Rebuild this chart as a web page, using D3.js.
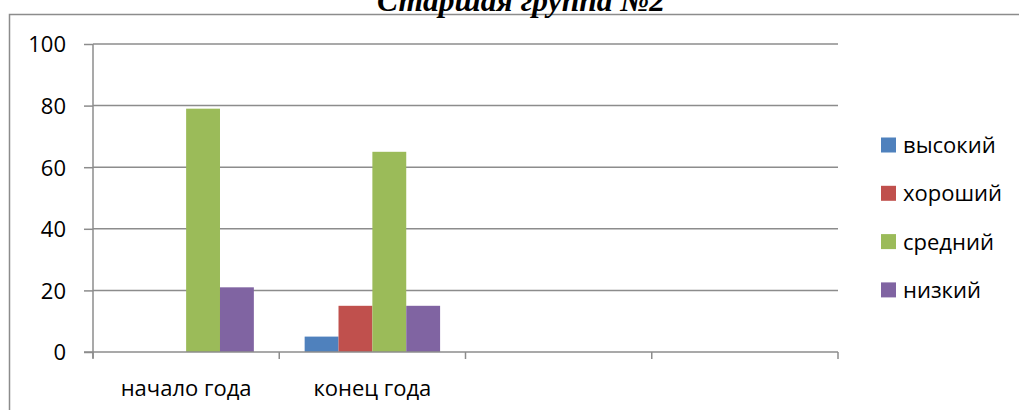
<!DOCTYPE html>
<html>
<head>
<meta charset="utf-8">
<script src="https://cdn.jsdelivr.net/npm/d3@7"></script>
<style>
  html, body { margin: 0; padding: 0; background: #fff; }
  svg { display: block; }
</style>
</head>
<body>
<svg id="chart" width="1019" height="410"></svg>
<script>
// Chart data
const title = "Старшая группа №2";
const categories = ["начало года", "конец года", "", ""];
const seriesNames = ["высокий", "хороший", "средний", "низкий"];
const seriesColors = ["#4F81BD", "#C0504D", "#9BBB59", "#8064A2"];
// values per series, one entry per category (null = no bar)
const vysokiy = [0, 5, null, null];
const khoroshiy = [0, 15, null, null];
const sredniy = [79, 65, null, null];
const nizkiy = [21, 15, null, null];
const seriesValues = [vysokiy, khoroshiy, sredniy, nizkiy];
const yTicks = [0, 20, 40, 60, 80, 100];

const svg = d3.select("#chart");
const W = 1019, H = 410;
const plot = { left: 93, right: 838, top: 44, bottom: 352 };
const gridColor = "#8c8c8c";
const labelFont = "'Open Sans', sans-serif";

// outer chart frame (continues past the right and bottom edges)
svg.append("rect")
  .attr("x", 9.5).attr("y", 14.5)
  .attr("width", W + 20).attr("height", H + 20)
  .attr("fill", "none").attr("stroke", gridColor).attr("stroke-width", 1.5);

// title, sitting above the frame's top edge
const t = svg.append("text")
  .attr("x", 521).attr("y", 11)
  .attr("text-anchor", "middle")
  .style("font-family", "'Liberation Serif', 'Times New Roman', serif")
  .style("font-weight", "bold").style("font-style", "italic")
  .style("font-size", "24px")
  .attr("fill", "#000")
  .text(title);
const tw = t.node().getComputedTextLength();
t.style("font-size", (24 * 288 / tw).toFixed(2) + "px");

// scales
const x0 = d3.scaleBand().domain(d3.range(categories.length))
  .range([plot.left, plot.right]).paddingInner(0).paddingOuter(0);
// 150% gap between groups: band = 4 bars + 1.5 bar
const barW = x0.bandwidth() / (seriesNames.length + 1.5);
const x1 = d3.scaleBand().domain(d3.range(seriesNames.length))
  .range([0.75 * barW, 0.75 * barW + barW * seriesNames.length]);
const y = d3.scaleLinear().domain([0, 100]).range([plot.bottom, plot.top]);

// horizontal gridlines
svg.append("g").selectAll("line").data(yTicks.filter(d => d > 0)).join("line")
  .attr("x1", plot.left).attr("x2", plot.right)
  .attr("y1", d => y(d)).attr("y2", d => y(d))
  .attr("stroke", gridColor).attr("stroke-width", 1.5);

// bars
const groups = svg.append("g").selectAll("g")
  .data(seriesValues).join("g")
  .attr("fill", (d, i) => seriesColors[i]);
groups.each(function (vals, si) {
  d3.select(this).selectAll("rect")
    .data(vals.map((v, ci) => ({ v, ci })).filter(d => d.v != null && d.v > 0))
    .join("rect")
    .attr("x", d => x0(d.ci) + x1(si))
    .attr("width", x1.bandwidth())
    .attr("y", d => y(d.v))
    .attr("height", d => y(0) - y(d.v));
});

// y axis
const yAxis = svg.append("g")
  .attr("transform", `translate(${plot.left},0)`)
  .call(d3.axisLeft(y).tickValues(yTicks).tickSize(9).tickPadding(18).tickFormat(d3.format("d")));
yAxis.select(".domain").attr("stroke", gridColor).attr("stroke-width", 1.5).attr("d", `M0,${plot.top}V${plot.bottom + 6}`);
yAxis.selectAll(".tick line").attr("stroke", gridColor).attr("stroke-width", 1.5);
yAxis.selectAll(".tick text")
  .style("font-family", labelFont).style("font-size", "22px").attr("fill", "#000")
  .attr("dy", "0.36em");

// x axis line and category boundary ticks
svg.append("line")
  .attr("x1", plot.left - 9).attr("x2", plot.right)
  .attr("y1", plot.bottom).attr("y2", plot.bottom)
  .attr("stroke", gridColor).attr("stroke-width", 1.5);
const bounds = d3.range(categories.length + 1).map(i => plot.left + i * x0.bandwidth());
svg.append("g").selectAll("line").data(bounds).join("line")
  .attr("x1", d => d).attr("x2", d => d)
  .attr("y1", plot.bottom).attr("y2", plot.bottom + 7)
  .attr("stroke", gridColor).attr("stroke-width", 1.5);

// category labels
svg.append("g").selectAll("text").data(categories).join("text")
  .attr("x", (d, i) => x0(i) + x0.bandwidth() / 2)
  .attr("y", 396)
  .attr("text-anchor", "middle")
  .style("font-family", labelFont).style("font-size", "22px")
  .attr("fill", "#000")
  .text(d => d);

// legend
const legend = svg.append("g").selectAll("g").data(seriesNames).join("g")
  .attr("transform", (d, i) => `translate(881,${145 + i * 48.3})`);
legend.append("rect")
  .attr("x", 0).attr("y", -7.5).attr("width", 15).attr("height", 15)
  .attr("fill", (d, i) => seriesColors[i]);
legend.append("text")
  .attr("x", 22).attr("y", 0).attr("dy", "0.36em")
  .style("font-family", labelFont).style("font-size", "22px")
  .attr("fill", "#000")
  .text(d => d);
</script>
</body>
</html>
